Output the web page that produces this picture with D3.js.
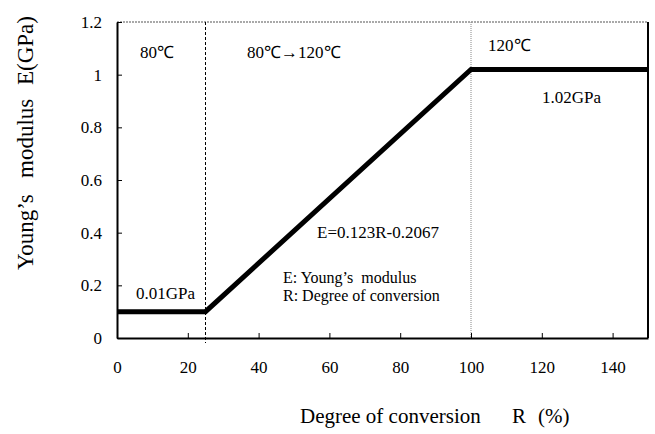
<!DOCTYPE html>
<html>
<head>
<meta charset="utf-8">
<script src="https://cdn.jsdelivr.net/npm/d3@7"></script>
<style>
  html, body { margin: 0; padding: 0; background: #fff; }
  svg { display: block; }
</style>
</head>
<body>
<svg id="chart" width="655" height="434"></svg>
<script>
// Young's modulus vs degree of conversion (piecewise linear model)
const conversion = [0, 25, 100, 150];
const modulus = [0.1, 0.1, 1.02, 1.02];

const xTicks = [0, 20, 40, 60, 80, 100, 120, 140];
const yTicks = [0, 0.2, 0.4, 0.6, 0.8, 1, 1.2];
const yTickLabels = ["0", "0.2", "0.4", "0.6", "0.8", "1", "1.2"];

// Boundaries between curing stages
const stageBounds = [25, 100];

const SERIF = '"Liberation Serif", "Times New Roman", Times, serif';

const svg = d3.select("#chart");
const x = d3.scaleLinear().domain([0, 150]).range([117, 648]);
const y = d3.scaleLinear().domain([0, 1.2]).range([338, 22]);

// frame: dotted top, solid right
svg.append("line")
  .attr("x1", x(0)).attr("x2", x(150)).attr("y1", y(1.2)).attr("y2", y(1.2))
  .attr("stroke", "#555").attr("stroke-width", 1.2).attr("stroke-dasharray", "2,1");
svg.append("line")
  .attr("x1", x(150)).attr("x2", x(150)).attr("y1", y(1.2)).attr("y2", y(0))
  .attr("stroke", "#000").attr("stroke-width", 2);

// stage boundaries
svg.append("line")
  .attr("x1", x(stageBounds[0])).attr("x2", x(stageBounds[0]))
  .attr("y1", y(1.2)).attr("y2", y(0) + 5)
  .attr("stroke", "#000").attr("stroke-width", 1).attr("stroke-dasharray", "3,2");
svg.append("line")
  .attr("x1", x(stageBounds[1])).attr("x2", x(stageBounds[1]))
  .attr("y1", y(1.2)).attr("y2", y(0))
  .attr("stroke", "#888").attr("stroke-width", 1).attr("stroke-dasharray", "1,1");

// axes
const yAxis = d3.axisLeft(y).tickValues(yTicks)
  .tickFormat((d, i) => yTickLabels[i]).tickSize(-5).tickSizeOuter(0).tickPadding(15);
const gy = svg.append("g").attr("transform", `translate(${x(0)},0)`).call(yAxis);

const xAxis = d3.axisBottom(x).tickValues(xTicks)
  .tickFormat(d3.format("d")).tickSize(-5).tickSizeOuter(0).tickPadding(23);
const gx = svg.append("g").attr("transform", `translate(0,${y(0)})`).call(xAxis);

[gx, gy].forEach(g => {
  g.attr("font-family", SERIF).attr("font-size", 17);
  g.select(".domain").attr("stroke", "#000").attr("stroke-width", 2);
  g.selectAll(".tick line").attr("stroke", "#000").attr("stroke-width", 1);
  g.selectAll(".tick text")
    .attr("font-family", SERIF).style("font-family", SERIF)
    .style("font-size", "17px").attr("fill", "#000");
});

// modulus curve
const pts = conversion.map((c, i) => [c, modulus[i]]);
svg.append("path")
  .datum(pts)
  .attr("d", d3.line().x(d => x(d[0])).y(d => y(d[1])))
  .attr("fill", "none").attr("stroke", "#000").attr("stroke-width", 5)
  .attr("stroke-linejoin", "miter");

// annotations
const notes = [
  { t: "80℃", x: 140, y: 58, s: 17 },
  { t: "80℃→120℃", x: 247, y: 58, s: 17 },
  { t: "120℃", x: 488, y: 51, s: 17 },
  { t: "1.02GPa", x: 542, y: 103, s: 17 },
  { t: "0.01GPa", x: 136, y: 299, s: 17 },
  { t: "E=0.123R-0.2067", x: 317, y: 238, s: 17 },
  { t: "E: Young’s  modulus", x: 283, y: 283, s: 16 },
  { t: "R: Degree of conversion", x: 283, y: 301, s: 16 }
];
svg.selectAll("text.note").data(notes).enter().append("text")
  .attr("class", "note")
  .attr("x", d => d.x).attr("y", d => d.y)
  .style("font-family", SERIF)
  .style("font-size", d => d.s + "px").style("white-space", "pre")
  .text(d => d.t);

// x axis title
const xt = svg.append("text").attr("y", 423)
  .style("font-family", SERIF).style("font-size", "21px");
xt.append("tspan").attr("x", 300).text("Degree of conversion");
xt.append("tspan").attr("x", 512).text("R");
xt.append("tspan").attr("x", 538).text("(%)");

// y axis title (rotated)
[["Young’s", 270], ["modulus", 178], ["E(GPa)", 85]].forEach(([t, yy]) => {
  svg.append("text")
    .attr("transform", `translate(33,${yy}) rotate(-90)`)
    .style("font-family", SERIF)
    .style("font-size", "23px")
    .text(t);
});
</script>
</body>
</html>
